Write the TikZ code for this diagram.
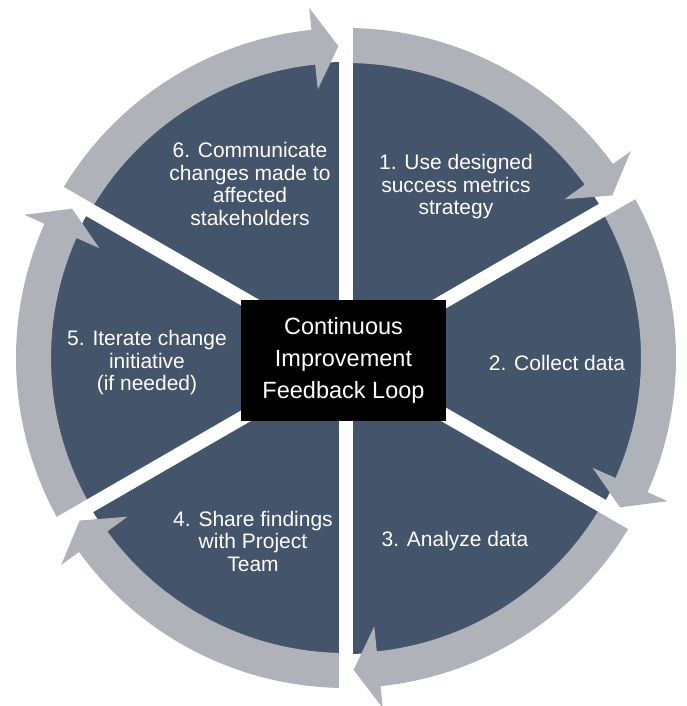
\documentclass[tikz,border=0pt]{standalone}
\usepackage{fontspec}
\setmainfont{Liberation Sans}
\usetikzlibrary{positioning, calc}
\definecolor{slate}{HTML}{44546A}
\definecolor{ringgray}{HTML}{AFB2B9}

\begin{document}
\begin{tikzpicture}[
    x=1pt, y=1pt,
    ringarrow/.style={fill=ringgray},
    gapline/.style={draw=white, line width=14pt},
    steplabel/.style={
      text=white,
      align=center,
      inner sep=0pt,
      font=\fontsize{21}{22.5}\selectfont
    },
    hubbox/.style={
      fill=black,
      text=white,
      align=center,
      minimum width=205pt,
      minimum height=121pt,
      inner sep=0pt,
      font=\fontsize{23.5}{32}\selectfont
    }
  ]
  \useasboundingbox (-346,-348) rectangle (340,358);
  \coordinate (hub) at (0,0);

  \fill[slate] (hub) circle[radius=296pt];

  \foreach \g in {90,30,-30,-90,-150,150} {
    \fill[ringarrow] (\g+60:330pt) arc[start angle=\g+60, end angle=\g+6, radius=330pt]
      -- (\g+6:352pt) -- (\g+1.4:312pt) -- (\g+6:270pt) -- (\g+6:295pt)
      arc[start angle=\g+6, end angle=\g+60, radius=295pt] -- cycle;
  }
  \foreach \g in {90,30,-30,-90,-150,150}
    \draw[gapline] (hub) -- (\g:362pt);

  \node[hubbox] (loop) at (-2.5,-2.5) {Continuous\\Improvement\\Feedback Loop};

  \node[steplabel] (use) at (110,171) {1. Use designed\\success metrics\\strategy};
  \node[steplabel] (collect) at (211,-5) {2. Collect data};
  \node[steplabel] (analyze) at (109,-183) {3. Analyze data};
  \node[steplabel] (share) at (-93,-183) {4. Share findings\\with Project\\Team};
  \node[steplabel] (iterate) at (-199,-5) {5. Iterate change\\initiative\\(if needed)};
  \node[steplabel] (tell) at (-96,174) {6. Communicate\\changes made to\\affected\\stakeholders};
\end{tikzpicture}
\end{document}
